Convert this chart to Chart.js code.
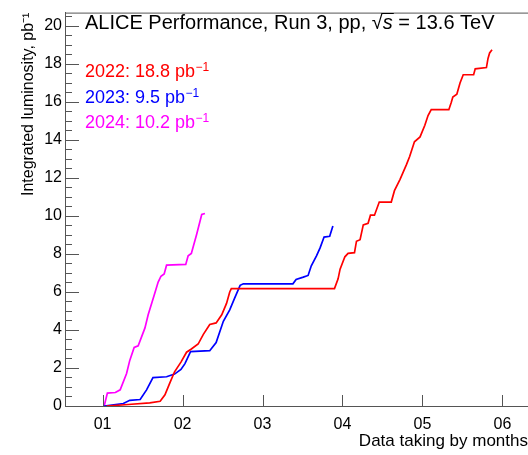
<!DOCTYPE html>
<html>
<head>
<meta charset="utf-8">
<script src="https://cdn.jsdelivr.net/npm/chart.js@4.4.1/dist/chart.umd.min.js"></script>
<style>
  html, body { margin: 0; padding: 0; background: #fff; overflow: hidden; }
  #wrap { width: 528px; height: 455px; }
</style>
</head>
<body>
<div id="wrap"><canvas id="lumi" width="528" height="455"></canvas></div>
<script>
// months since start of data taking (01 = first month), integrated luminosity in pb^-1
let months2022 = [1.05, 1.32, 1.59, 1.72, 1.78, 1.84, 1.90, 1.98, 2.05, 2.11, 2.195, 2.26, 2.34, 2.42, 2.49, 2.55, 2.59, 2.61,
    3.90, 3.945, 3.97, 4.03, 4.07, 4.15, 4.175, 4.22, 4.26, 4.32, 4.35, 4.40, 4.46, 4.61, 4.65, 4.72, 4.80, 4.84, 4.90,
    4.97, 5.03, 5.07, 5.11, 5.33, 5.36, 5.38, 5.43, 5.47, 5.51, 5.64, 5.66, 5.80, 5.82, 5.84, 5.87];
let lumi2022 = [0, 0.08, 0.16, 0.25, 0.59, 1.2, 1.8, 2.31, 2.83, 3.0, 3.26, 3.77, 4.29, 4.37, 4.8, 5.4, 6.0, 6.18,
    6.18, 6.69, 7.2, 7.85, 8.03, 8.07, 8.67, 8.75, 9.53, 9.61, 10.04, 10.04, 10.73, 10.73, 11.33, 11.93, 12.7, 13.13, 13.9,
    14.16, 14.77, 15.28, 15.59, 15.59, 15.97, 16.26, 16.4, 17.0, 17.43, 17.43, 17.74, 17.81, 18.29, 18.58, 18.75];

let months2023 = [1.02, 1.26, 1.34, 1.47, 1.55, 1.63, 1.80, 1.90, 1.98, 2.03, 2.10, 2.34, 2.42, 2.51, 2.59, 2.65, 2.72, 2.76,
    3.38, 3.42, 3.51, 3.57, 3.61, 3.675, 3.72, 3.77, 3.84, 3.88];
let lumi2023 = [0, 0.13, 0.3, 0.34, 0.85, 1.49, 1.54, 1.68, 1.92, 2.23, 2.86, 2.91, 3.34, 4.46, 5.06, 5.66, 6.35, 6.43,
    6.43, 6.66, 6.78, 6.87, 7.38, 7.9, 8.32, 8.89, 8.93, 9.47];

let months2024 = [1.02, 1.06, 1.16, 1.22, 1.30, 1.34, 1.395, 1.445, 1.53, 1.57, 1.645, 1.695, 1.73, 1.77, 1.80,
    2.04, 2.07, 2.11, 2.175, 2.24, 2.28];
let lumi2024 = [0, 0.68, 0.71, 0.85, 1.71, 2.4, 3.08, 3.17, 4.11, 4.8, 5.83, 6.52, 6.83, 6.95, 7.41,
    7.45, 7.9, 8.03, 9.01, 10.08, 10.13];

let xTickValues = [1, 2, 3, 4, 5, 6];
let xTickLabels = ["01", "02", "03", "04", "05", "06"];
let yTickValues = [0, 2, 4, 6, 8, 10, 12, 14, 16, 18, 20];

let legendYears = ["2022", "2023", "2024"];
let legendTotals = ["18.8", "9.5", "10.2"];
let legendColors = ["#ff0000", "#0000ff", "#ff00ff"];

const FONT = "'Liberation Sans', Arial, Helvetica, sans-serif";
const AXIS_COLOR = "#555";

function toPoints(xs, ys) {
    return xs.map((x, i) => ({ x: x, y: ys[i] }));
}

// ROOT-style inward ticks and the top frame line
const rootFrame = {
    id: "rootFrame",
    afterDraw(chart) {
        const ctx = chart.ctx;
        const area = chart.chartArea;
        const xs = chart.scales.x;
        const ys = chart.scales.y;
        ctx.save();
        ctx.strokeStyle = AXIS_COLOR;
        ctx.lineWidth = 1;
        ctx.beginPath();
        ctx.moveTo(area.left, area.top + 0.5);
        ctx.lineTo(area.right, area.top + 0.5);
        for (let v = ys.min; v <= ys.max + 1e-9; v += 0.5) {
            const py = Math.round(ys.getPixelForValue(v)) + 0.5;
            const len = Math.abs(v % 2) < 1e-6 ? 14 : 7;
            ctx.moveTo(area.left, py);
            ctx.lineTo(area.left + len, py);
        }
        xTickValues.forEach(v => {
            const px = Math.round(xs.getPixelForValue(v)) + 0.5;
            ctx.moveTo(px, area.bottom);
            ctx.lineTo(px, area.bottom - 11);
        });
        ctx.stroke();
        ctx.restore();
    }
};

function drawWithSup(ctx, x, y, base, sup, size) {
    ctx.font = size + "px " + FONT;
    ctx.fillText(base, x, y);
    x += ctx.measureText(base).width;
    ctx.font = Math.round(size * 0.66) + "px " + FONT;
    ctx.fillText(sup, x + 0.5, y - size * 0.33);
}

const texts = {
    id: "texts",
    afterDraw(chart) {
        const ctx = chart.ctx;
        ctx.save();
        ctx.textBaseline = "alphabetic";
        ctx.textAlign = "left";
        ctx.fillStyle = "#000";

        // header: ALICE Performance, Run 3, pp, sqrt(s) = 13.6 TeV
        let x = 85, y = 29;
        ctx.font = "20px " + FONT;
        const head = "ALICE Performance, Run 3, pp, ";
        ctx.fillText(head, x, y);
        x += ctx.measureText(head).width;
        ctx.fillText("\u221A", x, y);
        x += ctx.measureText("\u221A").width;
        ctx.font = "italic 20px " + FONT;
        const sw = ctx.measureText("s").width;
        ctx.fillText("s", x, y);
        ctx.fillRect(x - 1, y - 16, sw + 2, 1);
        x += sw;
        ctx.font = "20px " + FONT;
        ctx.fillText(" = 13.6 TeV", x, y);

        legendYears.forEach((yr, i) => {
            ctx.fillStyle = legendColors[i];
            drawWithSup(ctx, 85, 77 + i * 25.7, yr + ": " + legendTotals[i] + " pb", "\u22121", 18);
        });
        ctx.restore();
    }
};

const ctx = document.getElementById("lumi").getContext("2d");

new Chart(ctx, {
    type: "line",
    data: {
        datasets: [
            { label: "2022", data: toPoints(months2022, lumi2022), borderColor: legendColors[0] },
            { label: "2023", data: toPoints(months2023, lumi2023), borderColor: legendColors[1] },
            { label: "2024", data: toPoints(months2024, lumi2024), borderColor: legendColors[2] }
        ]
    },
    options: {
        responsive: false,
        animation: false,
        devicePixelRatio: 1,
        layout: { padding: { top: 5, left: 0, right: 0, bottom: 0 } },
        elements: {
            point: { radius: 0 },
            line: { borderWidth: 1.7, tension: 0, fill: false }
        },
        plugins: {
            legend: { display: false },
            tooltip: { enabled: false }
        },
        scales: {
            x: {
                type: "linear",
                min: 0.53,
                max: 6.32,
                afterBuildTicks: s => { s.ticks = xTickValues.map(v => ({ value: v })); },
                afterFit: s => { s.height = 49; },
                grid: { display: false, drawTicks: false },
                border: { display: true, color: AXIS_COLOR, width: 1 },
                ticks: {
                    color: "#000",
                    padding: 9,
                    maxRotation: 0,
                    font: { family: FONT, size: 16 },
                    callback: (v, i) => xTickLabels[i]
                },
                title: {
                    display: true,
                    text: "Data taking by months",
                    align: "end",
                    color: "#000",
                    font: { family: FONT, size: 17, lineHeight: 1.2 },
                    padding: { top: 0, bottom: 3 }
                }
            },
            y: {
                type: "linear",
                min: 0,
                max: 20.7,
                afterBuildTicks: s => { s.ticks = yTickValues.map(v => ({ value: v })); },
                afterFit: s => { s.width = 65; },
                grid: { display: false, drawTicks: false },
                border: { display: true, color: AXIS_COLOR, width: 1 },
                ticks: {
                    color: "#000",
                    padding: 3,
                    font: { family: FONT, size: 16 }
                },
                title: {
                    display: true,
                    text: "Integrated luminosity, pb\u207B\u00B9",
                    align: "end",
                    color: "#000",
                    font: { family: FONT, size: 16, lineHeight: 1.2 },
                    padding: { top: 19, bottom: 0 }
                }
            }
        }
    },
    plugins: [rootFrame, texts]
});
</script>
</body>
</html>
